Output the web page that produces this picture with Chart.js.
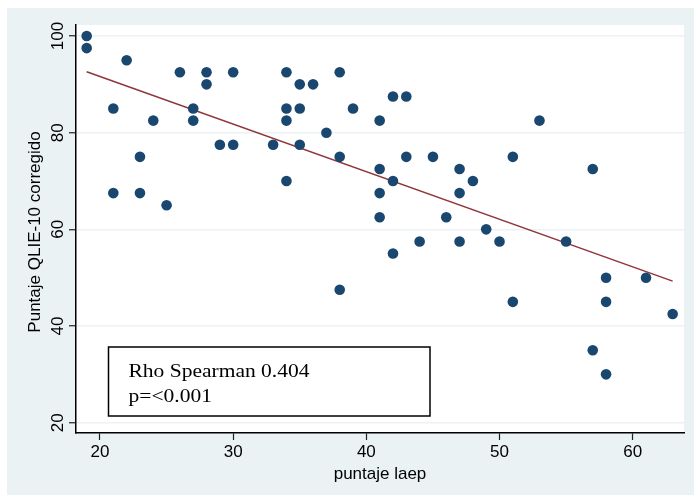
<!DOCTYPE html>
<html>
<head>
<meta charset="utf-8">
<script src="https://cdn.jsdelivr.net/npm/chart.js@4/dist/chart.umd.min.js"></script>
<style>
  html, body { margin: 0; padding: 0; background: #ffffff; }
  #wrap { width: 694px; height: 495px; position: relative; }
</style>
</head>
<body>
<div id="wrap"><canvas id="c" width="694" height="495"></canvas></div>
<script>
// ---- data ----
const laep = [19,19,22,21,24,26,27,27,28,28,30,29,30,23,21,23,25,33,34,34,34,34,35,35,35,36,37,38,38,39,42,43,41,53,43,45,51,41,47,57,42,48,41,47,41,46,49,44,47,50,55,42,38,58,61,51,58,63,57,58];
const qlie = [100,97.5,95,85,82.5,92.5,85,82.5,92.5,90,92.5,77.5,77.5,75,67.5,67.5,65,77.5,92.5,85,82.5,70,90,85,77.5,90,80,92.5,75,85,87.5,87.5,82.5,82.5,75,75,75,72.5,72.5,72.5,70,70,67.5,67.5,62.5,62.5,60,57.5,57.5,57.5,57.5,55,47.5,50,50,45,45,42.5,35,30];
const fitX = [19, 63];
const fitY = [92.6, 49.3];
const xTicks = [20, 30, 40, 50, 60];
const yTicks = [20, 40, 60, 80, 100];
const xTitle = 'puntaje laep';
const yTitle = 'Puntaje QLIE-10 corregido';
const noteLines = ['Rho Spearman 0.404', 'p=<0.001'];

const BG = '#eaf2f3';
const SANS = '"Liberation Sans", Arial, sans-serif';
const SERIF = '"Liberation Serif", "Times New Roman", serif';

const bgPlugin = {
  id: 'bg',
  beforeDraw(chart) {
    const ctx = chart.ctx, a = chart.chartArea;
    ctx.save();
    ctx.fillStyle = '#ffffff';
    ctx.fillRect(0, 0, chart.width, chart.height);
    ctx.fillStyle = BG;
    ctx.fillRect(7, 8, chart.width - 7, chart.height - 8);
    ctx.fillStyle = '#ffffff';
    ctx.fillRect(a.left, a.top, a.right - a.left, a.bottom - a.top);
    ctx.restore();
  }
};

const textPlugin = {
  id: 'texts',
  afterDraw(chart) {
    const ctx = chart.ctx, a = chart.chartArea;
    const xs = chart.scales.x, ys = chart.scales.y;
    ctx.save();
    ctx.fillStyle = '#000';
    // x tick labels
    ctx.font = '17px ' + SANS;
    ctx.textAlign = 'center';
    ctx.textBaseline = 'alphabetic';
    xTicks.forEach(v => ctx.fillText(String(v), xs.getPixelForValue(v), 457));
    // y tick labels (rotated)
    yTicks.forEach(v => {
      ctx.save();
      ctx.translate(63, ys.getPixelForValue(v));
      ctx.rotate(-Math.PI / 2);
      ctx.fillText(String(v), 0, 0);
      ctx.restore();
    });
    // axis titles
    ctx.fillText(xTitle, (a.left + a.right) / 2, 479);
    ctx.save();
    ctx.translate(40, (a.top + a.bottom) / 2 + 3);
    ctx.rotate(-Math.PI / 2);
    ctx.fillText(yTitle, 0, 0);
    ctx.restore();
    // note box
    ctx.strokeStyle = '#000';
    ctx.lineWidth = 1.5;
    ctx.strokeRect(108.5, 347, 321.5, 69);
    ctx.font = '19px ' + SERIF;
    ctx.textAlign = 'left';
    const w0 = ctx.measureText(noteLines[0]).width;
    const sx = 181 / w0;
    ctx.save();
    ctx.translate(128.5, 0);
    ctx.scale(sx, 1);
    ctx.fillText(noteLines[0], 0, 377);
    ctx.fillText(noteLines[1], 0, 402);
    ctx.restore();
    ctx.restore();
  }
};

new Chart(document.getElementById('c'), {
  type: 'scatter',
  data: {
    datasets: [
      {
        type: 'line',
        data: fitX.map((x, i) => ({ x: x, y: fitY[i] })),
        borderColor: '#90353b',
        borderWidth: 1.5,
        pointRadius: 0,
        fill: false,
        order: 1
      },
      {
        data: laep.map((x, i) => ({ x: x, y: qlie[i] })),
        backgroundColor: '#1a476f',
        borderColor: '#1a476f',
        borderWidth: 0,
        pointRadius: 5.3,
        order: 0
      }
    ]
  },
  options: {
    responsive: false,
    animation: false,
    devicePixelRatio: 1,
    layout: { padding: { left: 0, top: 25, right: 10, bottom: 0 } },
    plugins: { legend: { display: false }, tooltip: { enabled: false } },
    scales: {
      x: {
        type: 'linear',
        min: 18.198, max: 63.852,
        afterBuildTicks: s => { s.ticks = xTicks.map(v => ({ value: v })); },
        afterFit: s => { s.height = 62; },
        ticks: { display: false },
        grid: { drawOnChartArea: false, drawTicks: true, tickLength: 7, tickColor: '#222', tickWidth: 1.2 },
        border: { display: true, color: '#000', width: 1.5 }
      },
      y: {
        type: 'linear',
        min: 17.87, max: 102.28,
        afterBuildTicks: s => { s.ticks = yTicks.map(v => ({ value: v })); },
        afterFit: s => { s.width = 76; },
        ticks: { display: false },
        grid: { color: BG, lineWidth: 1.5, drawTicks: true, tickLength: 7, tickColor: '#222', tickWidth: 1.2 },
        border: { display: true, color: '#000', width: 1.5 }
      }
    }
  },
  plugins: [bgPlugin, textPlugin]
});
</script>
</body>
</html>
